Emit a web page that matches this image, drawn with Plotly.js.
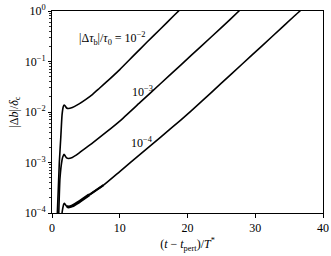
<!DOCTYPE html>
<html>
<head>
<meta charset="utf-8">
<script src="https://cdn.plot.ly/plotly-3.0.1.min.js"></script>
<style>html,body{margin:0;padding:0;background:#fff;}#chart{width:331px;height:256px;}</style>
</head>
<body>
<div id="chart"></div>
<script>
// Curve |Δτb|/τ0 = 1e-2
var t1 = [0.79, 1.08, 1.3, 1.48, 1.65, 1.78, 1.95, 2.15, 2.42, 3, 4, 5, 6, 7, 8, 10, 12, 14, 16, 18, 19];
var v1 = [1.0e-4, 1.0e-3, 3.2e-3, 8.7e-3, 1.26e-2, 1.38e-2, 1.32e-2, 1.20e-2, 1.17e-2, 1.23e-2, 1.45e-2, 1.78e-2, 2.24e-2, 2.95e-2, 3.89e-2, 6.92e-2, 0.129, 0.240, 0.440, 0.813, 1.1];
// Curve 1e-3
var t2 = [1.0, 1.18, 1.48, 1.6, 1.78, 1.95, 2.15, 2.42, 3, 3.5, 4.5, 6, 8, 10, 13, 16, 19, 22, 25, 27.6, 28];
var v2 = [1.0e-4, 4.9e-4, 1.12e-3, 1.3e-3, 1.45e-3, 1.35e-3, 1.23e-3, 1.20e-3, 1.26e-3, 1.38e-3, 1.74e-3, 2.45e-3, 3.98e-3, 6.61e-3, 1.55e-2, 3.63e-2, 8.51e-2, 0.2, 0.468, 1.0, 1.12];
// Curve 1e-4
var t3 = [1.48, 1.6, 1.72, 1.82, 2.0, 2.2, 2.42, 3, 4, 5.5, 7.6, 10, 13, 16, 19, 22, 25, 28, 31, 34, 36.6, 37];
var v3 = [1.0e-4, 1.26e-4, 1.48e-4, 1.55e-4, 1.45e-4, 1.35e-4, 1.32e-4, 1.38e-4, 1.66e-4, 2.29e-4, 3.55e-4, 6.61e-4, 1.45e-3, 3.16e-3, 6.92e-3, 1.58e-2, 3.72e-2, 8.71e-2, 0.204, 0.479, 1.0, 1.1];
// oscillating band of the 1e-4 curve (drawn thicker): [start, end, width]
var bands = [[2.2, 5.5, 3.0], [5.5, 7.6, 2.2]];

var curveLabels = ['|Δ<i>τ</i><sub>b</sub>|/<i>τ</i><sub>0</sub> = 10<sup>−2</sup>', '10<sup>−3</sup>', '10<sup>−4</sup>'];
var labelX = [9.0, 13.3, 13.3];
var labelY = [0.29, 0.025, 0.00245];

var yTickVals = [1e-4, 1e-3, 1e-2, 1e-1, 1];
var yTickText = ['10<sup>−4</sup>', '10<sup>−3</sup>', '10<sup>−2</sup>', '10<sup>−1</sup>', '10<sup>0</sup>'];
var xTickVals = [0, 10, 20, 30, 40];

var line = {color: '#000', width: 1.6, shape: 'spline', smoothing: 0.5};
var traces = [
  {x: t1, y: v1, mode: 'lines', line: line, hoverinfo: 'skip'},
  {x: t2, y: v2, mode: 'lines', line: line, hoverinfo: 'skip'},
  {x: t3, y: v3, mode: 'lines', line: line, hoverinfo: 'skip'}
];
bands.forEach(function(b){
  var bt = [], bv = [];
  for (var i = 0; i < t3.length; i++) {
    if (t3[i] >= b[0] && t3[i] <= b[1]) { bt.push(t3[i]); bv.push(v3[i]); }
  }
  traces.push({x: bt, y: bv, mode: 'lines', line: {color: '#000', width: b[2], shape: 'spline', smoothing: 0.5}, hoverinfo: 'skip'});
});

var fam = '"Liberation Serif", "Times New Roman", serif';
var font = {family: fam, size: 12, color: '#000'};
var annotations = curveLabels.map(function(txt, i){
  return {x: labelX[i], y: Math.log10(labelY[i]), xref: 'x', yref: 'y', text: txt, showarrow: false,
          font: {family: fam, size: 12, color: '#000'}, xanchor: 'center', yanchor: 'middle'};
});

var layout = {
  width: 331, height: 256,
  margin: {l: 52, r: 8, t: 11, b: 43},
  paper_bgcolor: '#fff', plot_bgcolor: '#fff',
  showlegend: false,
  font: font,
  xaxis: {
    range: [0, 40], tickvals: xTickVals, ticks: 'outside', ticklen: 4, tickwidth: 1, tickcolor: '#000',
    showline: true, linecolor: '#000', linewidth: 1, mirror: true, showgrid: false, zeroline: false,
    tickfont: {family: fam, size: 12, color: '#000'},
    title: {text: '(<i>t</i> − <i>t</i><sub>pert</sub>)/<i>T</i><sup>*</sup>', font: {family: fam, size: 12, color: '#000'}, standoff: 5}
  },
  yaxis: {
    type: 'log', range: [-4, 0], tickvals: yTickVals, ticktext: yTickText,
    ticks: 'outside', ticklen: 3, tickwidth: 1, tickcolor: '#000',
    minor: {ticks: 'outside', ticklen: 2, tickwidth: 0.8, tickcolor: '#000', showgrid: false, dtick: 'D1'},
    showline: true, linecolor: '#000', linewidth: 1, mirror: true, showgrid: false, zeroline: false,
    tickfont: {family: fam, size: 12, color: '#000'},
    title: {text: '|Δ<i>b</i>|/<i>δ</i><sub>c</sub>', font: {family: fam, size: 12, color: '#000'}, standoff: 3}
  },
  annotations: annotations
};
Plotly.newPlot('chart', traces, layout, {staticPlot: true, displayModeBar: false});
</script>
</body>
</html>
